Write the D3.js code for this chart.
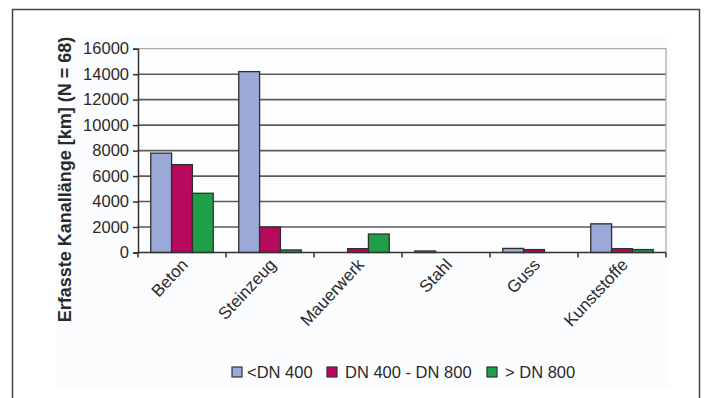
<!DOCTYPE html>
<html>
<head>
<meta charset="utf-8">
<script src="https://cdn.jsdelivr.net/npm/d3@7"></script>
<style>
  html, body { margin: 0; padding: 0; background: #ffffff; }
  svg { display: block; font-family: "Liberation Sans", Arial, sans-serif; }
</style>
</head>
<body>
<svg id="chart" width="705" height="398"></svg>
<script>
// Pipe material categories and surveyed sewer length (km) per diameter class
const categories = ["Beton", "Steinzeug", "Mauerwerk", "Stahl", "Guss", "Kunststoffe"];
const seriesNames = ["<DN 400", "DN 400 - DN 800", "> DN 800"];
const lessDN400 = [7800, 14200, 0, 120, 320, 2250];
const dn400to800 = [6900, 2000, 300, 0, 230, 300];
const moreDN800 = [4650, 200, 1450, 0, 0, 230];
const yTicks = [0, 2000, 4000, 6000, 8000, 10000, 12000, 14000, 16000];
const yTitle = "Erfasste Kanallänge [km] (N = 68)";

const colors = ["#9aa9d8", "#b70a5c", "#1fa048"];
const series = [lessDN400, dn400to800, moreDN800];

const svg = d3.select("#chart");

// outer frame (open at the bottom)
svg.append("path")
  .attr("d", "M12.5,398 V9.5 H699.5 V398")
  .attr("fill", "none").attr("stroke", "#444").attr("stroke-width", 1.5);

// chart area background
svg.append("rect")
  .attr("x", 57).attr("y", 34).attr("width", 613).attr("height", 353)
  .attr("fill", "#fbfcfe");

const plot = { left: 138, right: 666, top: 48.7, bottom: 252.5 };

const x = d3.scaleBand().domain(categories)
  .range([plot.left, plot.right]).paddingInner(0.29).paddingOuter(0.145);
const xs = d3.scaleBand().domain(d3.range(series.length))
  .range([0, x.bandwidth()]);
const y = d3.scaleLinear().domain([0, 16000]).range([plot.bottom, plot.top]);

// plot area
svg.append("rect")
  .attr("x", plot.left).attr("y", plot.top)
  .attr("width", plot.right - plot.left).attr("height", plot.bottom - plot.top)
  .attr("fill", "#fcfdff");

// gridlines
svg.append("g").selectAll("line")
  .data(yTicks.filter(t => t > 0 && t < 16000))
  .join("line")
  .attr("x1", plot.left).attr("x2", plot.right)
  .attr("y1", d => y(d)).attr("y2", d => y(d))
  .attr("stroke", "#5a5a5a").attr("stroke-width", 1.6);

// plot border top/right
svg.append("path")
  .attr("d", `M${plot.left},${y(16000)} H${plot.right} V${plot.bottom}`)
  .attr("fill", "none").attr("stroke", "#b3aaa8").attr("stroke-width", 1.3);

// bars
series.forEach((vals, si) => {
  svg.append("g").selectAll("rect")
    .data(categories.map((c, i) => ({ c, v: vals[i] })).filter(d => d.v > 0))
    .join("rect")
    .attr("x", d => x(d.c) + xs(si))
    .attr("y", d => y(d.v))
    .attr("width", xs.bandwidth())
    .attr("height", d => y(0) - y(d.v))
    .attr("fill", colors[si])
    .attr("stroke", "#2e2e2e").attr("stroke-width", 1.3);
});

// y axis
const yAxis = svg.append("g")
  .attr("transform", `translate(${plot.left},0)`)
  .call(d3.axisLeft(y).tickValues(yTicks).tickSize(5).tickPadding(4).tickFormat(d3.format("d")));
yAxis.select(".domain").attr("stroke", "#333").attr("stroke-width", 1.5);
yAxis.selectAll(".tick line").attr("stroke", "#333").attr("stroke-width", 1.5);
yAxis.selectAll("text")
  .attr("font-size", 16.5).attr("fill", "#2a2a2a")
  .attr("font-family", "Liberation Sans, Arial, sans-serif");

// x axis with tick marks at category boundaries
const xAxisG = svg.append("g").attr("transform", `translate(0,${plot.bottom})`);
xAxisG.append("line")
  .attr("x1", plot.left).attr("x2", plot.right)
  .attr("stroke", "#333").attr("stroke-width", 1.5);
xAxisG.selectAll("line.tk")
  .data(d3.range(categories.length + 1))
  .join("line").attr("class", "tk")
  .attr("x1", i => plot.left + i * x.step()).attr("x2", i => plot.left + i * x.step())
  .attr("y1", 0).attr("y2", 5)
  .attr("stroke", "#333").attr("stroke-width", 1.5);
xAxisG.selectAll("text")
  .data(categories)
  .join("text")
  .attr("text-anchor", "end")
  .attr("transform", d => `translate(${x(d) + x.bandwidth() / 2 + 7},${13}) rotate(-47)`)
  .attr("font-size", 17).attr("fill", "#2a2a2a")
  .text(d => d);

// y axis title
svg.append("text")
  .attr("transform", `translate(71,179.5) rotate(-90)`)
  .attr("text-anchor", "middle")
  .attr("font-size", 18).attr("font-weight", "bold").attr("fill", "#2a2a2a")
  .text(yTitle);

// legend
const legendX = [232, 327, 487];
const legend = svg.append("g");
seriesNames.forEach((name, i) => {
  const g = legend.append("g").attr("transform", `translate(${legendX[i]},367)`);
  g.append("rect").attr("width", 10).attr("height", 10)
    .attr("fill", colors[i]).attr("stroke", "#333").attr("stroke-width", 1.2);
  g.append("text").attr("x", i === 0 ? 15 : 18).attr("y", 11)
    .attr("font-size", 16.5).attr("fill", "#2a2a2a")
    .text(name);
});
</script>
</body>
</html>
